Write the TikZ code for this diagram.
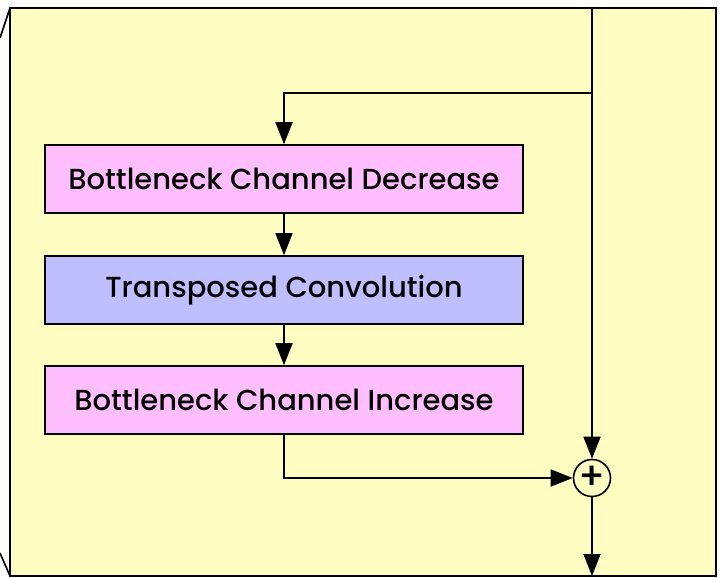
\documentclass[tikz,border=0pt]{standalone}
\usepackage{fontspec}
\setmainfont{Poppins Medium}
\usetikzlibrary{arrows.meta}
\definecolor{bgyellow}{HTML}{FFFDC2}
\definecolor{pinkfill}{HTML}{FFBFFF}
\definecolor{bluefill}{HTML}{BFBFFF}
\tikzset{
    block/.style={draw, line width=1.6pt, minimum width=478pt, minimum height=68pt,
        inner sep=0pt, font=\fontsize{29}{32}\selectfont},
    sumnode/.style={draw, circle, line width=1.6pt, minimum size=37pt, inner sep=0pt,
        font=\fontsize{38}{38}\selectfont},
}
\begin{document}
\begin{tikzpicture}[x=1pt, y=-1pt, line width=1.6pt, >={Triangle[length=22pt, width=17pt]}]
            \useasboundingbox (0,0) rectangle (721,578);
            \draw[fill=bgyellow] (10,8) rectangle (716,576);
            \draw (10,8) -- (0,38);
            \draw (0,553) -- (10,576);
            \node[block, fill=pinkfill] (dec) at (284,179) {Bottleneck Channel Decrease};
            \node[block, fill=bluefill] (conv) at (284,290) {Transposed Convolution};
            \node[block, fill=pinkfill] (inc) at (284,400) {Bottleneck Channel Increase};
            \node[sumnode, fill=bgyellow] (add) at (592,478) {+};
            \coordinate (in) at (592,8);
            \coordinate (split) at (592,93);
            \coordinate (out) at (592,576);
            \draw (in) -- (split);
            \draw[->] (split) -| (dec.north);
            \draw[->] (split) -- (add);
            \draw[->] (dec) -- (conv);
            \draw[->] (conv) -- (inc);
            \draw[->] (inc.south) |- (add.west);
            \draw[->] (add) -- (out);
        \end{tikzpicture}
\end{document}
